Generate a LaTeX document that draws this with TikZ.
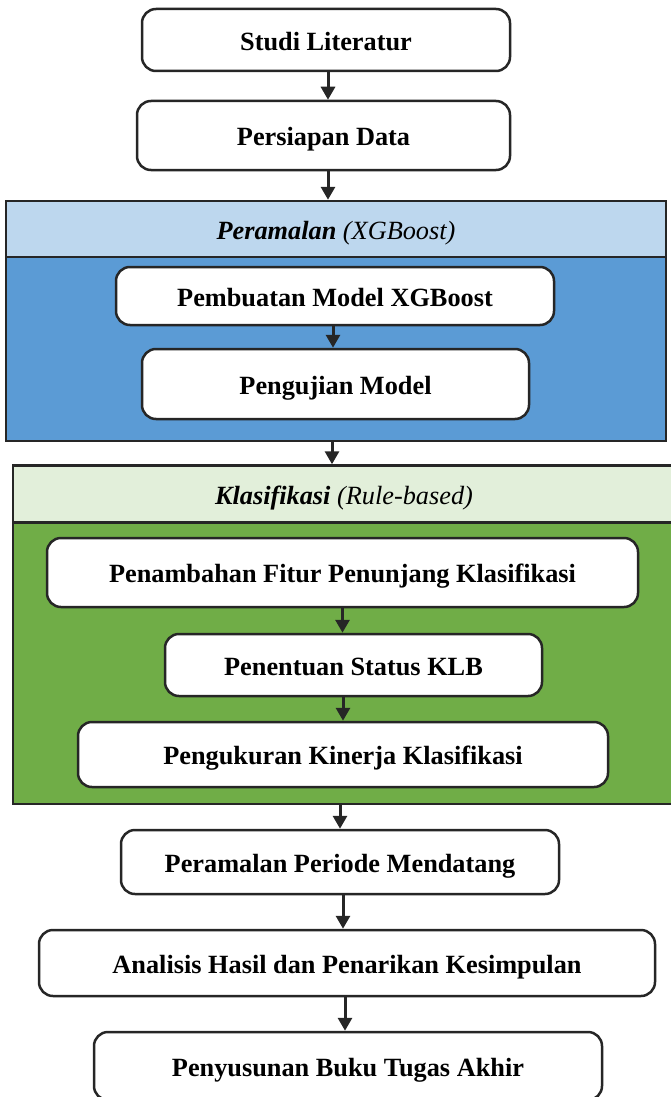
\documentclass[tikz,border=0pt]{standalone}
\usepackage{fontspec}
\setmainfont{Liberation Serif}
\usetikzlibrary{arrows.meta, positioning}

\definecolor{edgegray}{HTML}{262626}
\definecolor{headblue}{HTML}{BDD7EE}
\definecolor{bodyblue}{HTML}{5B9BD5}
\definecolor{headgreen}{HTML}{E2EFDA}
\definecolor{bodygreen}{HTML}{70AD47}

\tikzset{
	stepbox/.style={draw=edgegray, fill=white, rounded corners=14pt, line width=2.5pt, inner sep=0pt, text height=21pt, text depth=0.6pt, font=\fontsize{26.3}{30}\selectfont\bfseries},
	grouphead/.style={draw=edgegray, rectangle, line width=2.5pt, inner sep=0pt, text height=21pt, text depth=0.6pt, font=\fontsize{26.3}{30}\selectfont\itshape},
	groupbody/.style={draw=edgegray, rectangle, line width=2.5pt, inner sep=0pt},
	flow/.style={-{Triangle[width=14pt,length=13pt]}, line width=3pt, draw=edgegray}
}

\begin{document}
\begin{tikzpicture}[x=1pt, y=-1pt]
		\useasboundingbox (0,0) rectangle (670,1097);

		\node[stepbox, minimum width=368pt, minimum height=62pt]	(studi) at (326,40) {Studi Literatur};
		\node[stepbox, minimum width=373pt, minimum height=69pt]	(data) at (323.5,135.5) {Persiapan Data};

		% peramalan
		\node[groupbody, fill=bodyblue, minimum width=660pt, minimum height=184pt]	(ramal) at (336,349) {};
		\node[grouphead, fill=headblue, minimum width=660pt, minimum height=56pt]	(ramalhead) at (336,229) {\textbf{Peramalan} (XGBoost)};
		\node[stepbox, minimum width=438pt, minimum height=58pt]	(buatmodel) at (335,296) {Pembuatan Model XGBoost};
		\node[stepbox, minimum width=387pt, minimum height=70pt]	(ujimodel) at (335.5,384) {Pengujian Model};

		% klasifikasi
		\node[groupbody, fill=bodygreen, minimum width=662pt, minimum height=281pt]	(klas) at (344,663.5) {};
		\node[grouphead, fill=headgreen, minimum width=662pt, minimum height=57pt]	(klashead) at (344,494) {\textbf{Klasifikasi} (Rule-based)};
		\node[stepbox, minimum width=591pt, minimum height=69pt]	(fitur) at (342.5,572.5) {Penambahan Fitur Penunjang Klasifikasi};
		\node[stepbox, minimum width=377pt, minimum height=62pt]	(status) at (353.5,665) {Penentuan Status KLB};
		\node[stepbox, minimum width=530pt, minimum height=65pt]	(kinerja) at (343,754.5) {Pengukuran Kinerja Klasifikasi};

		\node[stepbox, minimum width=438pt, minimum height=64pt]	(periode) at (340,862) {Peramalan Periode Mendatang};
		\node[stepbox, minimum width=616pt, minimum height=66pt]	(analisis) at (347,963) {Analisis Hasil dan Penarikan Kesimpulan};
		\node[stepbox, minimum width=508pt, minimum height=68pt]	(buku) at (348,1066) {Penyusunan Buku Tugas Akhir};

		\draw[flow] ([xshift=2pt]studi.south) -- ([xshift=2pt]studi.south |- data.north);
		\draw[flow] ([xshift=4.5pt]data.south) -- ([xshift=4.5pt]data.south |- ramalhead.north);
		\draw[flow] ([xshift=-2pt]buatmodel.south) -- ([xshift=-2pt]buatmodel.south |- ujimodel.north);
		\draw[flow] ([xshift=-4pt]ramal.south) -- ([xshift=-4pt]ramal.south |- klashead.north);
		\draw[flow] (fitur.south) -- (fitur.south |- status.north);
		\draw[flow] (kinerja.north |- status.south) -- (kinerja.north);
		\draw[flow] (periode.north |- klas.south) -- (periode.north);
		\draw[flow] ([xshift=3pt]periode.south) -- ([xshift=3pt]periode.south |- analisis.north);
		\draw[flow] ([xshift=-2pt]analisis.south) -- ([xshift=-2pt]analisis.south |- buku.north);
	\end{tikzpicture}
\end{document}
